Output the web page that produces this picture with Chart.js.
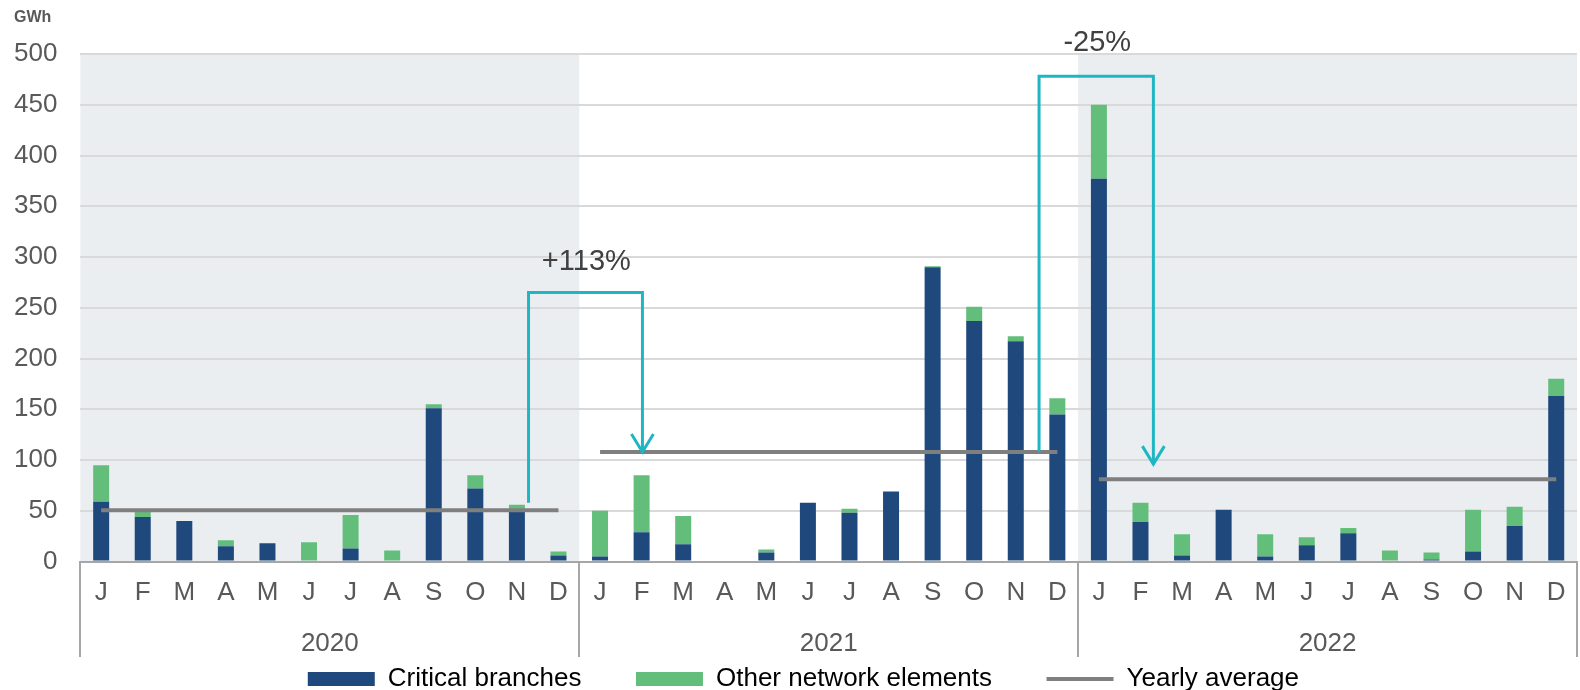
<!DOCTYPE html>
<html>
<head>
<meta charset="utf-8">
<script src="https://cdn.jsdelivr.net/npm/chart.js@4.4.1/dist/chart.umd.min.js"></script>
<style>
  html, body { margin: 0; padding: 0; background: #fff; }
</style>
</head>
<body>
<canvas id="chart" width="1580" height="690"></canvas>
<script>
// Monthly volumes, GWh
const years = ['2020', '2021', '2022'];
const months = ['J', 'F', 'M', 'A', 'M', 'J', 'J', 'A', 'S', 'O', 'N', 'D'];

const criticalBranches = [
  59, 44, 40, 15, 18, 0, 13, 1, 151, 72, 51, 6,      // 2020
  5, 29, 17, 0, 9, 58, 48, 69, 290, 237, 217, 145,   // 2021
  377, 39, 6, 51, 5, 16, 28, 1, 2, 10, 35, 163       // 2022
];
const otherElements = [
  36, 6, 0, 6, 0, 19, 33, 10, 4, 13, 5, 4,
  45, 56, 28, 0, 3, 0, 4, 0, 1, 14, 5, 16,
  73, 19, 21, 0, 22, 8, 5, 10, 7, 41, 19, 17
];
const yearlyAverage = [50.5, 108, 81.2];

// year-on-year change brackets (x in category index, y in GWh)
const changes = [
  { label: '+113%', from: 10.28, to: 13.02, base: 58, top: 265, tip: 108, textX: 11.67, textY: 295 },
  { label: '-25%', from: 22.56, to: 25.31, base: 108, top: 478, tip: 96, textX: 23.96, textY: 511 }
];

const FONT = "'Liberation Sans', Arial, sans-serif";
const TEXT = '#595959';
const BLUE = '#1F497D';
const GREEN = '#63BE7B';
const GREY = '#7F7F7F';
const TEAL = '#1FB6C4';

const labels = years.flatMap(() => months);

function averageFor(yearIdx) {
  return labels.map((_, i) => Math.floor(i / 12) === yearIdx ? yearlyAverage[yearIdx] : null);
}

const decorations = {
  id: 'decorations',
  beforeDraw(chart) {
    const { ctx, chartArea, scales: { x } } = chart;
    ctx.save();
    ctx.fillStyle = '#EBEEF1';
    years.forEach((yr, i) => {
      if (i % 2 === 1) return;
      const x0 = x.getPixelForValue(i * 12 - 0.5);
      const x1 = x.getPixelForValue(i * 12 + 11.5);
      ctx.fillRect(x0, chartArea.top, x1 - x0, chartArea.bottom - chartArea.top);
    });
    ctx.restore();
  },
  afterDatasetsDraw(chart) {
    const { ctx, scales: { x, y } } = chart;
    ctx.save();
    ctx.strokeStyle = TEAL;
    ctx.lineWidth = 3;
    ctx.fillStyle = '#404040';
    ctx.font = '29px ' + FONT;
    ctx.textAlign = 'center';
    ctx.textBaseline = 'middle';
    changes.forEach(c => {
      const xa = x.getPixelForValue(c.from);
      const xb = x.getPixelForValue(c.to);
      const ya = y.getPixelForValue(c.base);
      const yt = y.getPixelForValue(c.top);
      const yb = y.getPixelForValue(c.tip);
      ctx.beginPath();
      ctx.moveTo(xa, ya);
      ctx.lineTo(xa, yt);
      ctx.lineTo(xb, yt);
      ctx.lineTo(xb, yb);
      ctx.stroke();
      ctx.beginPath();
      ctx.moveTo(xb - 11, yb - 18);
      ctx.lineTo(xb, yb);
      ctx.lineTo(xb + 11, yb - 18);
      ctx.stroke();
      ctx.fillText(c.label, x.getPixelForValue(c.textX), y.getPixelForValue(c.textY));
    });
    ctx.restore();
  },
  afterDraw(chart) {
    const { ctx, chartArea, scales: { x, x2 } } = chart;
    ctx.save();
    // year separators under the axis
    ctx.strokeStyle = '#A6A6A6';
    ctx.lineWidth = 2;
    for (let i = 0; i <= years.length; i++) {
      const px = Math.round(x.getPixelForValue(i * 12 - 0.5));
      ctx.beginPath();
      ctx.moveTo(px, chartArea.bottom);
      ctx.lineTo(px, x2.bottom - 5);
      ctx.stroke();
    }
    // unit label
    ctx.fillStyle = TEXT;
    ctx.font = 'bold 16px ' + FONT;
    ctx.textBaseline = 'middle';
    ctx.fillText('GWh', 14, 18);
    ctx.restore();
  }
};

const gap = '       ';

new Chart(document.getElementById('chart'), {
  data: {
    labels: labels,
    datasets: [
      { type: 'bar', label: 'Critical branches', data: criticalBranches, backgroundColor: BLUE, stack: 'gen', order: 2 },
      { type: 'bar', label: 'Other network elements', data: otherElements, backgroundColor: GREEN, stack: 'gen', order: 2 },
      ...years.map((yr, i) => ({
        type: 'line', label: 'Yearly average', data: averageFor(i), borderColor: GREY, borderWidth: 4,
        pointRadius: 0, spanGaps: false, stack: 'avg' + yr, order: 1
      }))
    ]
  },
  options: {
    responsive: false,
    animation: false,
    layout: { padding: { top: 54, left: -9, right: 3, bottom: -12 } },
    datasets: { bar: { categoryPercentage: 1, barPercentage: 0.385 } },
    scales: {
      x: {
        stacked: true,
        grid: { display: false, drawTicks: false },
        border: { color: '#A6A6A6', width: 2 },
        ticks: { autoSkip: false, maxRotation: 0, padding: 16, color: TEXT, font: { size: 26, family: FONT } },
        afterFit: (scale) => { scale.paddingLeft = 0; scale.paddingRight = 0; }
      },
      x2: {
        type: 'category',
        labels: years,
        position: 'bottom',
        offset: true,
        grid: { display: false, drawTicks: false },
        border: { display: false },
        ticks: { padding: 3, color: TEXT, font: { size: 26, family: FONT } },
        afterFit: (scale) => { scale.paddingLeft = 0; scale.paddingRight = 0; }
      },
      y: {
        stacked: true,
        min: 0,
        max: 500,
        ticks: { stepSize: 50, padding: 23, color: TEXT, font: { size: 26, family: FONT } },
        grid: { color: '#D9D9D9', lineWidth: 2, drawTicks: false },
        border: { display: false }
      }
    },
    plugins: {
      tooltip: { enabled: false },
      legend: {
        position: 'bottom',
        fullSize: false,
        labels: {
          usePointStyle: true,
          pointStyleWidth: 67,
          boxHeight: 14,
          padding: 4,
          color: TEXT,
          font: { size: 26, family: FONT },
          generateLabels: () => [
            { text: 'Critical branches' + gap, fillStyle: BLUE, strokeStyle: BLUE, lineWidth: 0, pointStyle: 'rect', datasetIndex: 0 },
            { text: 'Other network elements' + gap, fillStyle: GREEN, strokeStyle: GREEN, lineWidth: 0, pointStyle: 'rect', datasetIndex: 1 },
            { text: 'Yearly average' + gap, fillStyle: GREY, strokeStyle: GREY, lineWidth: 4, pointStyle: 'line', datasetIndex: 2 }
          ]
        }
      }
    }
  },
  plugins: [decorations]
});
</script>
</body>
</html>
